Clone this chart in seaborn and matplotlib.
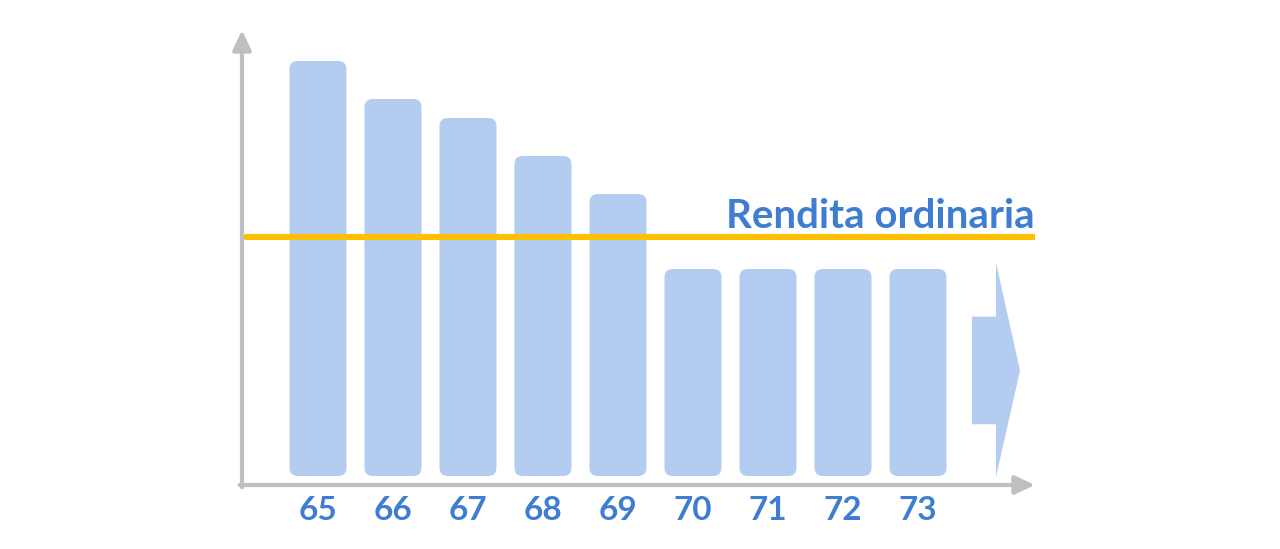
import pandas as pd
import seaborn as sns
from matplotlib import pyplot as plt
from matplotlib.patches import FancyBboxPatch, Polygon

ages = ["65", "66", "67", "68", "69", "70", "71", "72", "73"]
values = [415, 377, 358, 320, 282, 207, 207, 207, 207]
rendita = 239
rendita_label = "Rendita ordinaria"

BAR = "#B4CCF0"
BLUE = "#3F7DD1"
GOLD = "#FFC000"
GREY = "#BFBFBF"


def main():
    sns.set_style("white")
    plt.rcParams["font.family"] = ["Lato", "DejaVu Sans"]

    df = pd.DataFrame({"age": ages, "value": values})

    fig = plt.figure(figsize=(12.8, 5.49), dpi=100)
    W, H = 1280, 549
    ax = fig.add_axes([242 / W, (H - 485) / H, (1035 - 242) / W, (485 - 30) / H])

    sns.barplot(ax=ax, data=df, x="age", y="value", color=BAR, width=0.76,
                saturation=1)
    ax.set_xlim(-1.013, 9.56)
    ax.set_ylim(-9, 446)

    # swap the square bars for rounded ones
    xppu = 793 / (9.56 + 1.013)
    yppu = 455 / (446 + 9)
    for p in list(ax.patches):
        x, y, w, h = p.get_x(), p.get_y(), p.get_width(), p.get_height()
        p.remove()
        ax.add_patch(FancyBboxPatch((x, y), w, h,
                                    boxstyle="round,pad=0,rounding_size=0.11",
                                    mutation_aspect=xppu / yppu,
                                    fc=BAR, ec="none", zorder=2))

    # open-ended arrow after the last bar
    n = len(ages)
    last = values[-1]
    arrow = Polygon([(n - 0.28, last * 0.25), (n + 0.04, last * 0.25),
                     (n + 0.04, -1), (n + 0.36, last * 0.51),
                     (n + 0.04, last * 1.03), (n + 0.04, last * 0.77),
                     (n - 0.28, last * 0.77)],
                    closed=True, fc=BAR, ec="none", zorder=2)
    ax.add_patch(arrow)

    ax.axhline(rendita, xmin=0.005, xmax=1.0, color=GOLD, lw=4.4, zorder=3)
    ax.text(1.0, rendita + 9, rendita_label, transform=ax.get_yaxis_transform(),
            ha="right", va="baseline", color=BLUE, fontsize=29, fontweight="bold")

    # axes drawn as arrows
    for spine in ax.spines.values():
        spine.set_visible(False)
    arr = dict(arrowstyle="-|>,head_length=0.75,head_width=0.35", color=GREY,
               lw=3, mutation_scale=16, shrinkA=0, shrinkB=0)
    ax.annotate("", xy=(0, 1), xytext=(0, -0.005), xycoords="axes fraction",
                arrowprops=arr, annotation_clip=False)
    ax.annotate("", xy=(1, 0), xytext=(-0.003, 0), xycoords="axes fraction",
                arrowprops=arr, annotation_clip=False)

    ax.set_xlabel("")
    ax.set_ylabel("")
    ax.set_yticks([])
    ax.tick_params(axis="x", length=0, pad=8)
    for lbl in ax.get_xticklabels():
        lbl.set_color(BLUE)
        lbl.set_fontsize(24)
        lbl.set_fontweight("bold")

    fig.savefig("out.png", dpi=100)


if __name__ == '__main__':
    main()
